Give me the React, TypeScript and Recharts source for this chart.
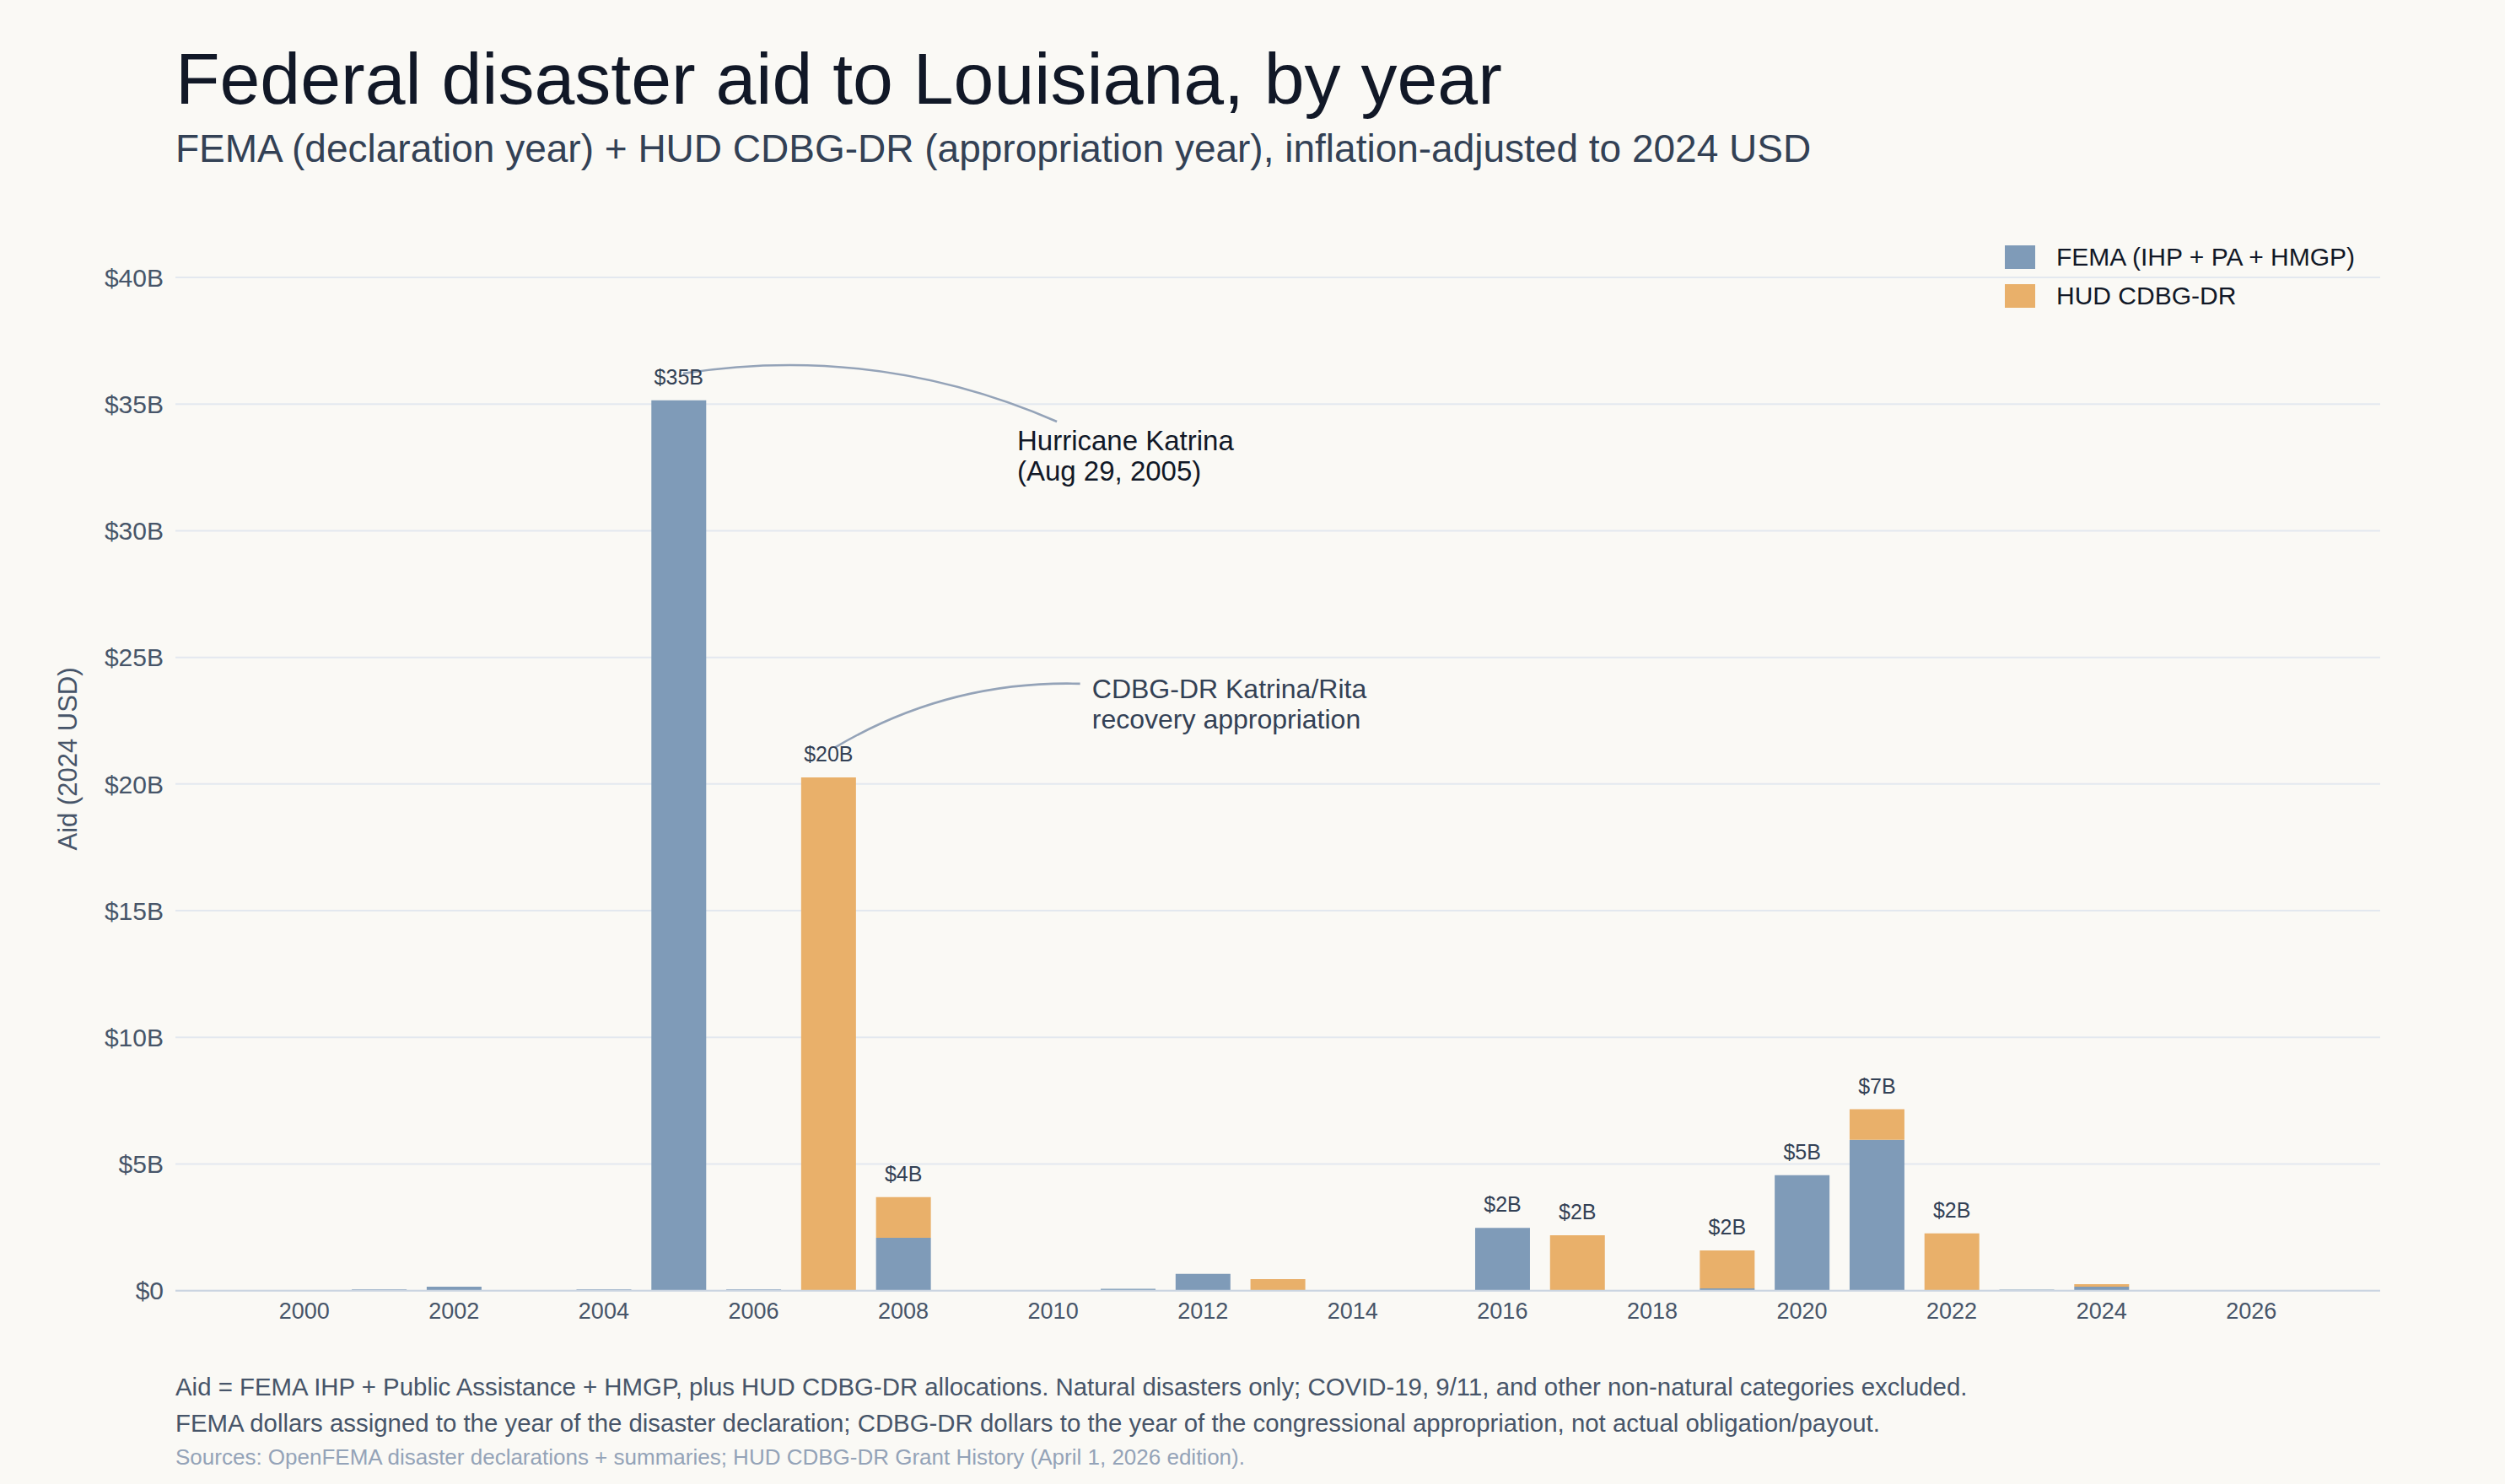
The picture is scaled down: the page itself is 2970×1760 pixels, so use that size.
import React from 'react';
import {
  BarChart, Bar, XAxis, YAxis, CartesianGrid, Legend, LabelList,
  ReferenceLine, ReferenceDot,
} from 'recharts';

// Aid per year, billions of 2024 USD
const years = [
  2000, 2001, 2002, 2003, 2004, 2005, 2006, 2007, 2008, 2009, 2010, 2011, 2012,
  2013, 2014, 2015, 2016, 2017, 2018, 2019, 2020, 2021, 2022, 2023, 2024, 2025,
];
const femaAid = [
  0, 0.05, 0.16, 0, 0.05, 35.15, 0.05, 0, 2.09, 0, 0, 0.07, 0.66,
  0, 0, 0, 2.48, 0, 0, 0.09, 4.56, 5.96, 0, 0.04, 0.16, 0,
];
const hudAid = [
  0, 0, 0, 0, 0, 0, 0, 20.26, 1.6, 0, 0, 0, 0,
  0.46, 0, 0, 0, 2.19, 0, 1.5, 0, 1.2, 2.26, 0, 0.1, 0,
];

const xTicks = [2000, 2002, 2004, 2006, 2008, 2010, 2012, 2014, 2016, 2018, 2020, 2022, 2024, 2026];
const yTicks = [0, 5, 10, 15, 20, 25, 30, 35, 40];

// annotation anchors in data space: [year, $B]
const katrinaArrow = [[2005.06, 36.21], [2010.05, 34.31]];
const katrinaText = [2009.52, 33.58];
const cdbgArrow = [[2007.08, 21.43], [2010.36, 23.96]];
const cdbgText = [2010.52, 23.76];

const FEMA_COLOR = '#7f9bb8';
const HUD_COLOR = '#e9b06a';
const FONT = '"Liberation Sans", Arial, Helvetica, sans-serif';

const data = years.map((year, i) => {
  const total = femaAid[i] + hudAid[i];
  const label = total >= 1 ? `$${Math.round(total)}B` : '';
  return {
    year,
    fema: femaAid[i],
    hud: hudAid[i],
    // the total sits on whichever segment is on top of the stack
    femaLabel: hudAid[i] > 0 ? '' : label,
    hudLabel: hudAid[i] > 0 ? label : '',
  };
});

// curved leader line, bowed like an arc3 connector
const curve = (p: any) => {
  const { x1, y1, x2, y2 } = p;
  const k = 0.145;
  const cx = (x1 + x2) / 2 + k * (y2 - y1);
  const cy = (y1 + y2) / 2 - k * (x2 - x1);
  return (
    <path
      d={`M${x1},${y1} Q${cx},${cy} ${x2},${y2}`}
      fill="none"
      stroke="#94a3b8"
      strokeWidth={2.6}
    />
  );
};

const note = (lines: string[], color: string, size: number) => (p: any) => (
  <text x={p.cx} y={p.cy} fontSize={size} fill={color} dominantBaseline="central">
    {lines.map((l, i) => (
      <tspan key={i} x={p.cx} dy={i === 0 ? 0 : 36}>{l}</tspan>
    ))}
  </text>
);

const totalLabel = (props: any) => {
  const vb = props.viewBox ?? props;
  if (!props.value) return null;
  return (
    <text
      x={vb.x + vb.width / 2}
      y={vb.y - 28}
      textAnchor="middle"
      dominantBaseline="central"
      fontSize={25}
      fill="#334155"
    >
      {props.value}
    </text>
  );
};

const legendContent = (props: any) => (
  <div style={{ display: 'flex', flexDirection: 'column', gap: 18, fontFamily: FONT }}>
    {props.payload.map((item: any) => (
      <div key={item.value} style={{ display: 'flex', alignItems: 'center', height: 28 }}>
        <span style={{ width: 36, height: 28, background: item.color, marginRight: 25 }} />
        <span style={{ fontSize: 30, color: '#111827', lineHeight: '28px' }}>{item.value}</span>
      </div>
    ))}
  </div>
);

const textBlock = (top: number, size: number, color: string): React.CSSProperties => ({
  position: 'absolute',
  left: 208,
  top,
  fontSize: size,
  lineHeight: 1,
  color,
  whiteSpace: 'nowrap',
});

export default function App() {
  return (
    <div
      style={{
        position: 'absolute', left: 0, top: 0, width: 2970, height: 1760,
        background: '#faf9f5', fontFamily: FONT, overflow: 'hidden',
      }}
    >
      <div style={textBlock(50, 86, '#111827')}>Federal disaster aid to Louisiana, by year</div>
      <div style={textBlock(153, 46, '#334155')}>
        FEMA (declaration year) + HUD CDBG-DR (appropriation year), inflation-adjusted to 2024 USD
      </div>

      <BarChart
        width={2970}
        height={1760}
        data={data}
        margin={{ top: 329, right: 148, bottom: 169.3, left: 68 }}
        style={{ position: 'absolute', left: 0, top: 0 }}
      >
        <CartesianGrid vertical={false} stroke="#e3e8ef" strokeWidth={2} />
        <XAxis
          dataKey="year"
          type="number"
          domain={[1998.28, 2027.72]}
          ticks={xTicks}
          interval={0}
          allowDataOverflow
          height={60}
          axisLine={{ stroke: '#cbd5e1', strokeWidth: 2 }}
          tickLine={false}
          tickSize={0}
          tickMargin={14}
          tick={{ fontSize: 27, fill: '#475569' }}
        />
        <YAxis
          domain={[0, 40]}
          ticks={yTicks}
          interval={0}
          width={140}
          axisLine={false}
          tickLine={false}
          tickSize={0}
          tickMargin={14}
          tick={{ fontSize: 30, fill: '#475569' }}
          tickFormatter={(v: number) => (v === 0 ? '$0' : `$${v}B`)}
          label={{
            content: () => (
              <text
                x={80.5}
                y={900}
                transform="rotate(-90 80.5 900)"
                textAnchor="middle"
                dominantBaseline="central"
                fontSize={31}
                fill="#475569"
              >
                Aid (2024 USD)
              </text>
            ),
          }}
        />
        <Legend
          layout="vertical"
          verticalAlign="middle"
          align="center"
          content={legendContent}
          wrapperStyle={{ top: 291, left: 2377, width: 500 }}
        />
        <Bar dataKey="fema" name="FEMA (IHP + PA + HMGP)" stackId="aid" fill={FEMA_COLOR} barSize={65} isAnimationActive={false}>
          <LabelList dataKey="femaLabel" content={totalLabel} />
        </Bar>
        <Bar dataKey="hud" name="HUD CDBG-DR" stackId="aid" fill={HUD_COLOR} barSize={65} isAnimationActive={false}>
          <LabelList dataKey="hudLabel" content={totalLabel} />
        </Bar>
        <ReferenceLine
          segment={katrinaArrow.map(([x, y]) => ({ x, y }))}
          ifOverflow="visible"
          shape={curve}
        />
        <ReferenceLine
          segment={cdbgArrow.map(([x, y]) => ({ x, y }))}
          ifOverflow="visible"
          shape={curve}
        />
        <ReferenceDot
          x={katrinaText[0]}
          y={katrinaText[1]}
          r={1}
          ifOverflow="visible"
          shape={note(['Hurricane Katrina', '(Aug 29, 2005)'], '#111827', 33)}
        />
        <ReferenceDot
          x={cdbgText[0]}
          y={cdbgText[1]}
          r={1}
          ifOverflow="visible"
          shape={note(['CDBG-DR Katrina/Rita', 'recovery appropriation'], '#334155', 32)}
        />
      </BarChart>

      <div style={textBlock(1630, 29.4, '#475569')}>
        Aid = FEMA IHP + Public Assistance + HMGP, plus HUD CDBG-DR allocations. Natural disasters only; COVID-19, 9/11, and other non-natural categories excluded.
      </div>
      <div style={textBlock(1673, 29.4, '#475569')}>
        FEMA dollars assigned to the year of the disaster declaration; CDBG-DR dollars to the year of the congressional appropriation, not actual obligation/payout.
      </div>
      <div style={textBlock(1715, 26, '#94a3b8')}>
        Sources: OpenFEMA disaster declarations + summaries; HUD CDBG-DR Grant History (April 1, 2026 edition).
      </div>
    </div>
  );
}
